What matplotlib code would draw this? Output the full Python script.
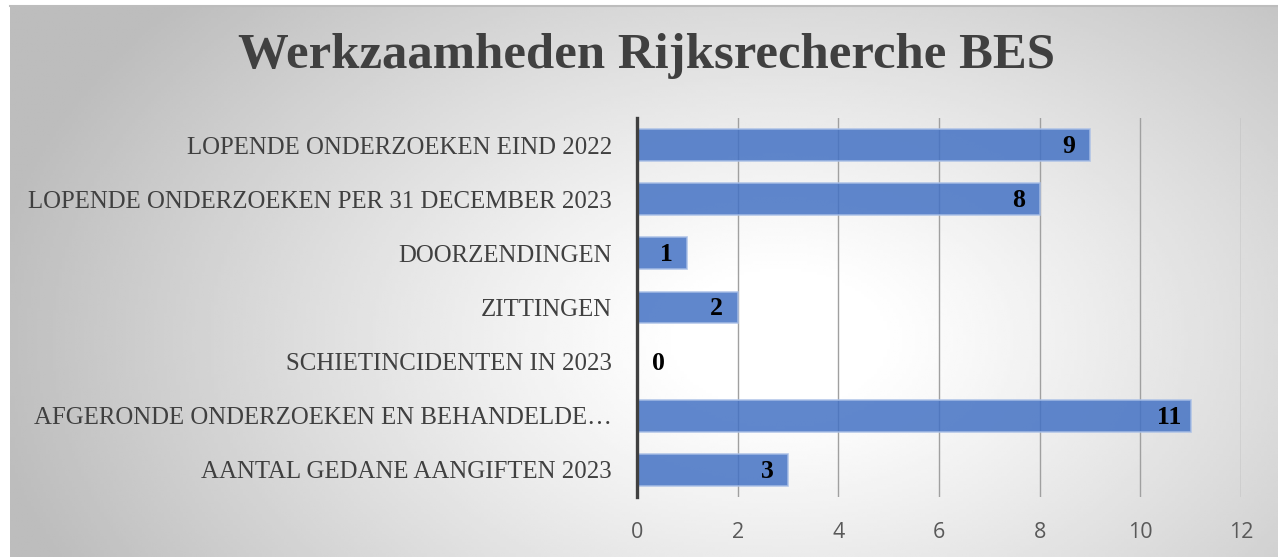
import numpy as np
import matplotlib
matplotlib.use("Agg")
import matplotlib.pyplot as plt

title = "Werkzaamheden Rijksrecherche BES"
categories = [
    "LOPENDE ONDERZOEKEN EIND 2022",
    "LOPENDE ONDERZOEKEN PER 31 DECEMBER 2023",
    "DOORZENDINGEN",
    "ZITTINGEN",
    "SCHIETINCIDENTEN IN 2023",
    "AFGERONDE ONDERZOEKEN EN BEHANDELDE\u2026",
    "AANTAL GEDANE AANGIFTEN 2023",
]
values = [9, 8, 1, 2, 0, 11, 3]
xticks = [0, 2, 4, 6, 8, 10, 12]

W, H = 1278, 557
fig = plt.figure(figsize=(W / 100, H / 100), dpi=100)
fig.patch.set_facecolor("white")

# background radial gradient
bg = fig.add_axes([10 / W, 0, 1 - 10 / W, 1 - 6 / H], zorder=0)
nx, ny = 400, 200
xs = np.linspace(10, W, nx)
ys = np.linspace(6, H, ny)
X, Y = np.meshgrid(xs, ys)
cx, cy = 780, 340
r = np.sqrt(((X - cx) / 800) ** 2 + ((Y - cy) / 520) ** 2)
r = np.clip(r, 0, 1)
val = 1.0 - 0.26 * np.clip((r - 0.12) / 0.88, 0, 1) ** 1.1
bg.imshow(val, cmap="gray", vmin=0, vmax=1, aspect="auto", extent=[0, 1, 0, 1], origin="upper", interpolation="bilinear")
bg.axis("off")
fig.add_artist(plt.Line2D([10 / W, 1], [1 - 6 / H, 1 - 6 / H], color="#bdbdbd", lw=1.5, transform=fig.transFigure))

ax = fig.add_axes([637 / W, 1 - 497 / H, (1241 - 637) / W, (497 - 118) / H], zorder=1)
ax.patch.set_alpha(0)
y = np.arange(len(categories))
ax.barh(y, values, height=0.59, color="#4472C4", alpha=0.85, edgecolor="#A9BFE6", linewidth=1.2, zorder=3)
ax.set_xlim(0, 12)
ax.set_ylim(len(categories) - 0.5, -0.5)
ax.set_xticks(xticks)
ax.set_xticklabels([str(t) for t in xticks], fontsize=15.5, color="#595959",
                   family=["Liberation Sans Narrow", "Open Sans", "DejaVu Sans"])
ax.set_yticks(y)
ax.set_yticklabels(categories, fontsize=17.9, color="#404040", family="Liberation Serif")
ax.tick_params(axis="both", length=0)
ax.tick_params(axis="y", pad=18)
ax.tick_params(axis="x", pad=18)
ax.grid(axis="x", color="#a0a0a0", lw=1.0, zorder=1)
for s in ["top", "right", "bottom"]:
    ax.spines[s].set_visible(False)
ax.spines["left"].set_color("#404040")
ax.spines["left"].set_linewidth(2.4)
ax.spines["left"].set_zorder(5)

for yi, v in zip(y, values):
    off = -21 if v > 0 else 21
    ax.annotate(str(v), (v, yi), xytext=(off * 0.72, -1), textcoords="offset points",
                ha="center", va="center", fontsize=18.5, fontweight="bold",
                family="Liberation Serif", color="black", zorder=6)

fig.text(646 / W, 1 - 56 / H, title, ha="center", va="center", fontsize=36.5,
         fontweight="bold", family="Liberation Serif", color="#404040")

fig.savefig("out.png", dpi=100)
